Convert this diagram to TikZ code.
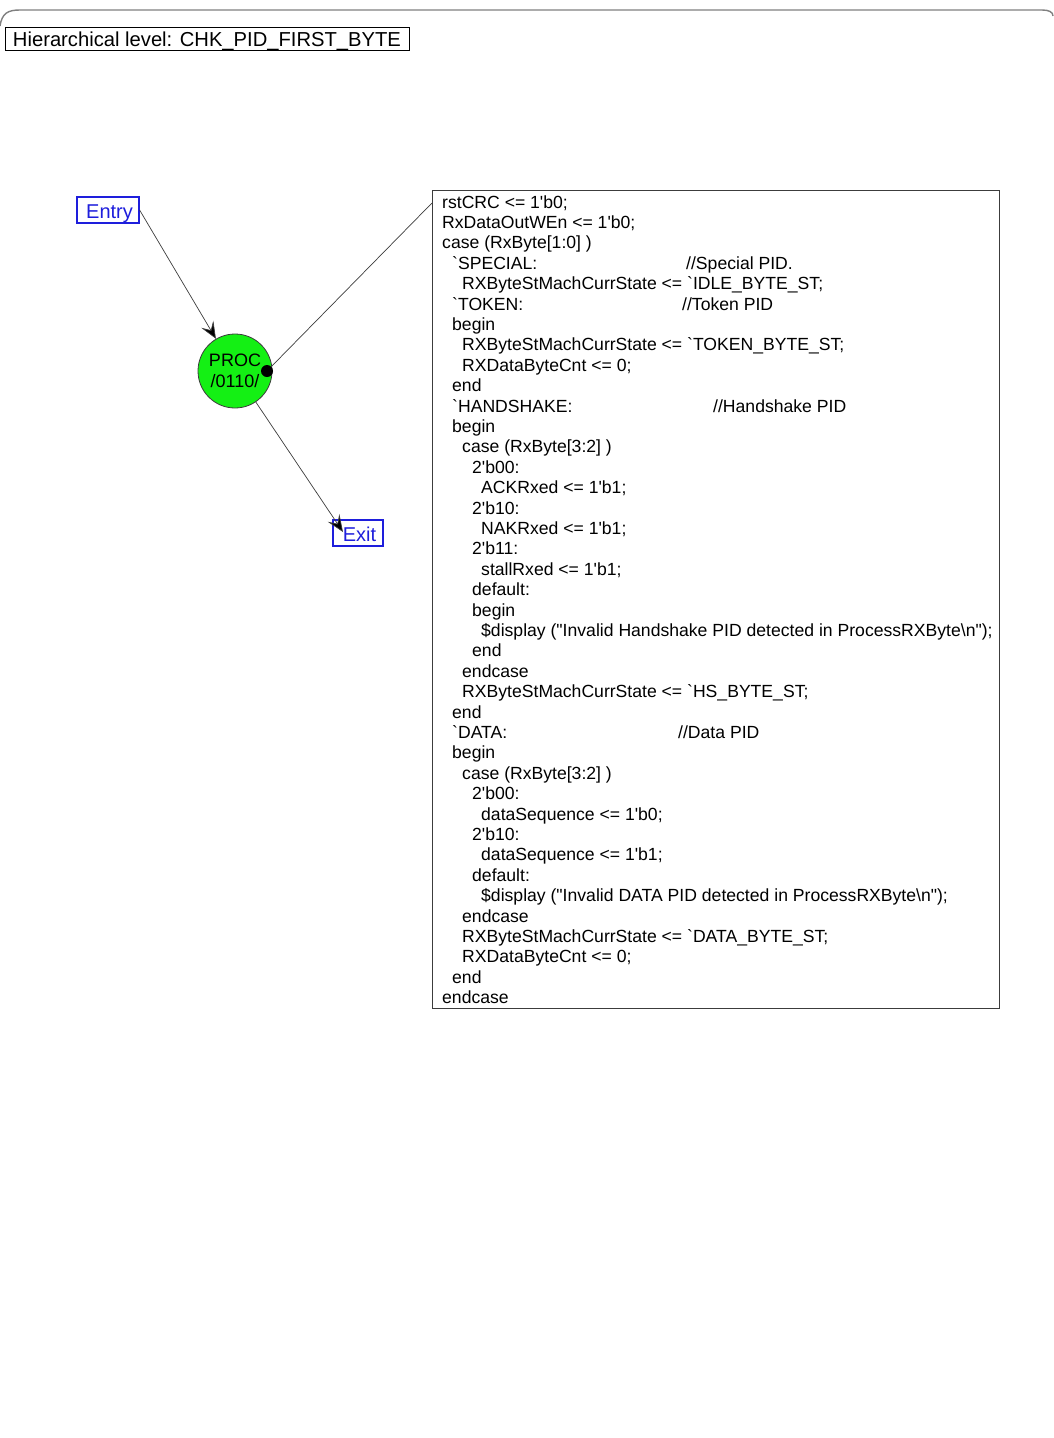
\documentclass[tikz,border=0pt]{standalone}
\usepackage{fontspec}
\newfontfamily\codefont{Liberation Sans}
\usetikzlibrary{arrows.meta}
\definecolor{boxblue}{RGB}{30,30,220}
\definecolor{procgreen}{RGB}{20,240,20}
\definecolor{framegray}{RGB}{128,128,128}
\definecolor{edgegray}{RGB}{60,60,60}
\tikzset{
  code/.style={inner sep=0pt, anchor=base west, font=\codefont\fontsize{17.6}{20}\selectfont},
  portbox/.style={draw=boxblue, line width=1.2pt, text=boxblue, inner sep=0pt,
    font=\codefont\fontsize{20}{22}\selectfont, text height=17.5pt, text depth=1.5pt},
  conn/.style={draw=edgegray, line width=0.7pt},
  arr/.style={conn, -{Stealth[length=17pt,width=14pt,inset=7pt,fill=black]}},
}
\newcommand\cl[3]{\node[code] (c#1) at (#2,{208+20.4*(#1-1)}) {#3};}
\newcommand\cm[3]{\node[code] (m#1) at (#2,{208+20.4*(#1-1)}) {#3};}
\begin{document}
\begin{tikzpicture}[x=1pt,y=-1pt]
\useasboundingbox (0,0) rectangle (1053,1438);
% frame
\draw[framegray, line width=1.4pt] (0,26) .. controls (2,13) and (8,10) .. (20,10) -- (1042,10) .. controls (1049,10) and (1053,12) .. (1053,16);
% title
\node[draw=black, line width=0.8pt, minimum width=404pt, minimum height=23pt, inner sep=0pt,
  text height=17pt, text depth=2pt,
  font=\codefont\fontsize{20.2}{22}\selectfont] (title) at (207,38.5) {Hierarchical level: CHK\_PID\_FIRST\_BYTE};
% entry / exit
\node[portbox, minimum width=62pt, minimum height=26pt] (entry) at (108,210) {\hspace*{3pt}Entry};
\node[portbox, minimum width=50pt, minimum height=26pt] (exit) at (358,533) {\hspace*{3pt}Exit};
% process
\node[circle, draw=edgegray, line width=0.8pt, fill=procgreen, minimum size=74pt, inner sep=0pt,
  align=center, font=\codefont\fontsize{18}{21}\selectfont] (proc) at (235,371) {PROC\\/0110/};
\node[circle, fill=black, minimum size=12pt, inner sep=0pt] (dot) at (267,371) {};
\coordinate (exittip) at (343,532);
\coordinate (boxcorner) at (432,203);
% code box
\node[draw=edgegray, line width=1pt, minimum width=567pt, minimum height=818pt, inner sep=0pt] (codebox) at (715.5,599) {};
% connectors
\draw[arr] (entry.east) -- (proc);
\draw[arr] (proc) -- (exittip);
\draw[conn] (dot) -- (boxcorner);
% code
\cl{1}{442}{rstCRC <= 1'b0;}
\cl{2}{442}{RxDataOutWEn <= 1'b0;}
\cl{3}{442}{case (RxByte[1:0] )}
\cl{4}{452}{`SPECIAL:}
\cm{4}{686}{//Special PID.}
\cl{5}{462}{RXByteStMachCurrState <= `IDLE\_BYTE\_ST;}
\cl{6}{452}{`TOKEN:}
\cm{6}{682}{//Token PID}
\cl{7}{452}{begin}
\cl{8}{462}{RXByteStMachCurrState <= `TOKEN\_BYTE\_ST;}
\cl{9}{462}{RXDataByteCnt <= 0;}
\cl{10}{452}{end}
\cl{11}{452}{`HANDSHAKE:}
\cm{11}{713}{//Handshake PID}
\cl{12}{452}{begin}
\cl{13}{462}{case (RxByte[3:2] )}
\cl{14}{472}{2'b00:}
\cl{15}{481}{ACKRxed <= 1'b1;}
\cl{16}{472}{2'b10:}
\cl{17}{481}{NAKRxed <= 1'b1;}
\cl{18}{472}{2'b11:}
\cl{19}{481}{stallRxed <= 1'b1;}
\cl{20}{472}{default:}
\cl{21}{472}{begin}
\cl{22}{481}{\$display ("Invalid Handshake PID detected in ProcessRXByte\textbackslash n");}
\cl{23}{472}{end}
\cl{24}{462}{endcase}
\cl{25}{462}{RXByteStMachCurrState <= `HS\_BYTE\_ST;}
\cl{26}{452}{end}
\cl{27}{452}{`DATA:}
\cm{27}{678}{//Data PID}
\cl{28}{452}{begin}
\cl{29}{462}{case (RxByte[3:2] )}
\cl{30}{472}{2'b00:}
\cl{31}{481}{dataSequence <= 1'b0;}
\cl{32}{472}{2'b10:}
\cl{33}{481}{dataSequence <= 1'b1;}
\cl{34}{472}{default:}
\cl{35}{481}{\$display ("Invalid DATA PID detected in ProcessRXByte\textbackslash n");}
\cl{36}{462}{endcase}
\cl{37}{462}{RXByteStMachCurrState <= `DATA\_BYTE\_ST;}
\cl{38}{462}{RXDataByteCnt <= 0;}
\cl{39}{452}{end}
\cl{40}{442}{endcase}
\end{tikzpicture}
\end{document}
